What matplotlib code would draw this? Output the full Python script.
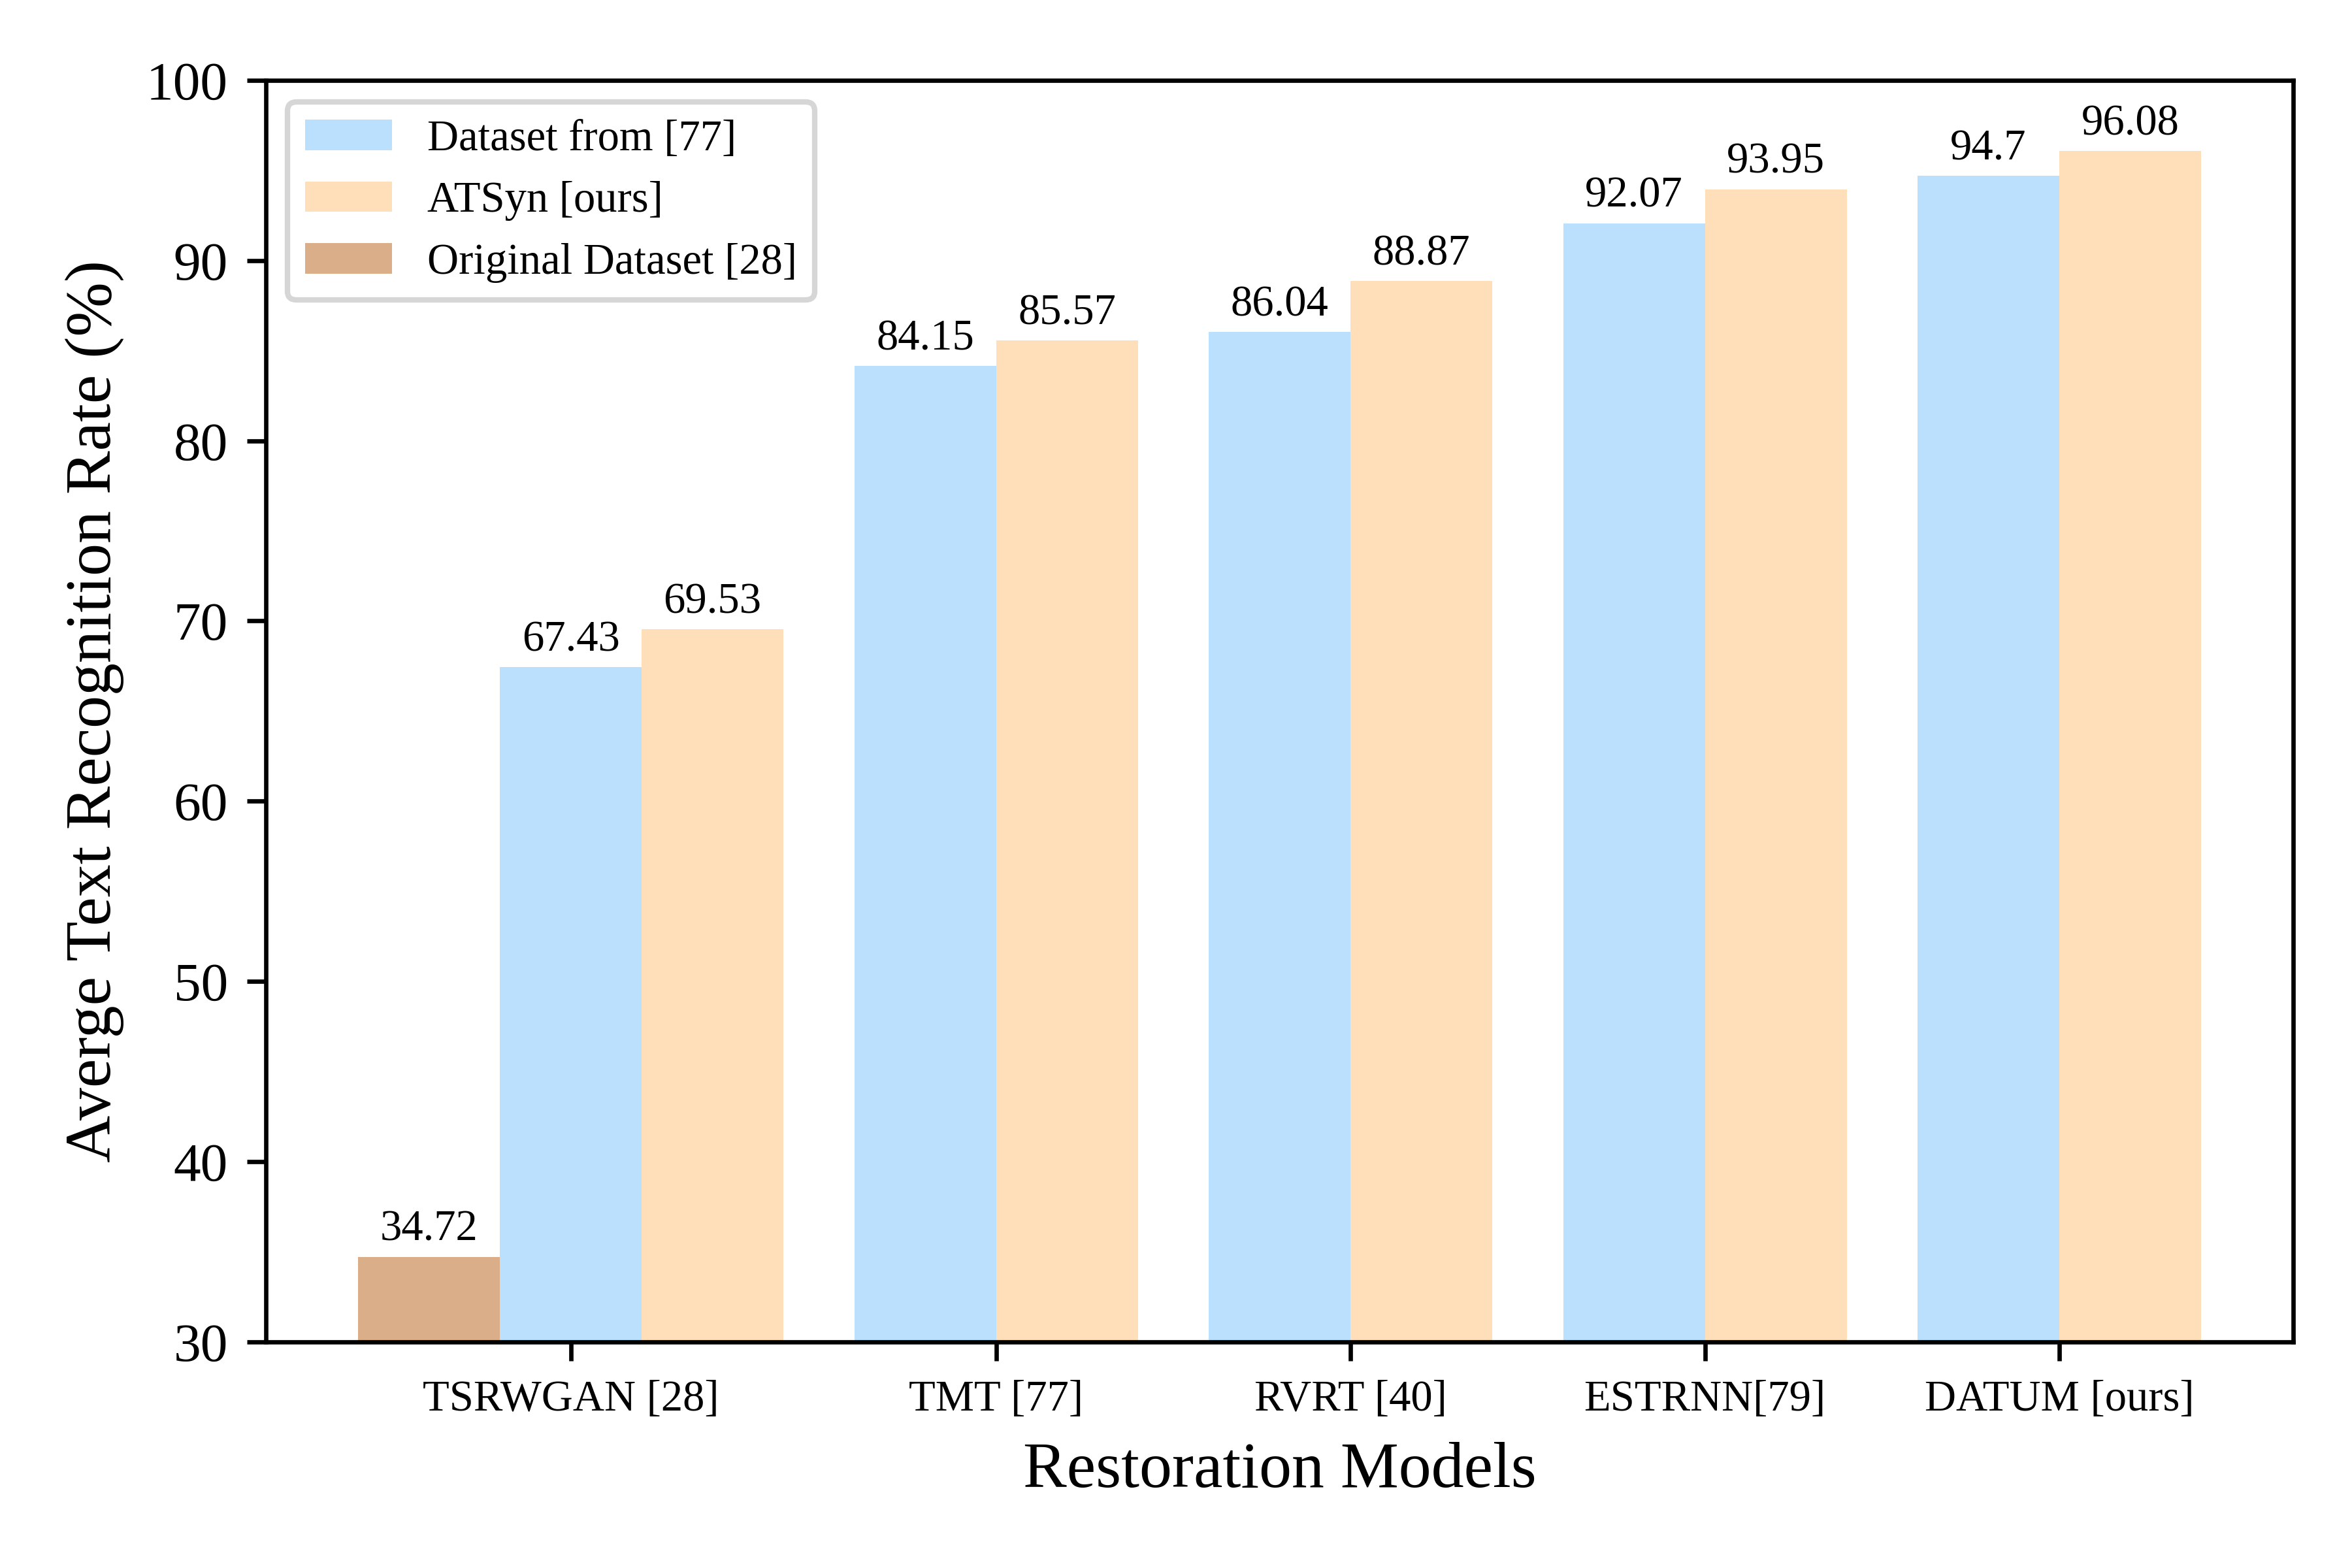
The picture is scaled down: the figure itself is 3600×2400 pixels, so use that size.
import matplotlib
matplotlib.use('Agg')
import matplotlib.pyplot as plt
import numpy as np

plt.rcParams['font.family'] = ['Liberation Serif', 'DejaVu Serif']

# data
models = ['TSRWGAN [28]', 'TMT [77]', 'RVRT [40]', 'ESTRNN[79]', 'DATUM [ours]']
dataset77 = [67.43, 84.15, 86.04, 92.07, 94.7]
atsyn = [69.53, 85.57, 88.87, 93.95, 96.08]
original28 = [34.72]
legend_names = ['Dataset from [77]', 'ATSyn [ours]', 'Original Dataset [28]']

BLUE = '#bae0fd'
ORANGE = '#fedfba'
BROWN = '#d9ae88'
W = 0.4

fig, ax = plt.subplots(figsize=(6, 4))
fig.subplots_adjust(left=0.1131, right=0.975, bottom=0.1442, top=0.9488)

index = np.arange(len(models))
b1 = ax.bar(index - W / 2, dataset77, W, color=BLUE, label=legend_names[0])
b2 = ax.bar(index + W / 2, atsyn, W, color=ORANGE, label=legend_names[1])
b3 = ax.bar(index[:1] - 3 * W / 2, original28, W, color=BROWN, label=legend_names[2])

for bars in (b1, b2, b3):
    ax.bar_label(bars, fontsize=8, padding=1.3)

# ticks: first group centred on its three bars
xt = index.astype(float)
xt[0] = -W / 2
ax.set_xticks(xt)
ax.set_xticklabels(models, fontsize=8)
ax.tick_params(axis='y', labelsize=10)

ax.set_ylim(30, 100)
ax.set_xlabel('Restoration Models', fontsize=12)
ax.set_ylabel('Averge Text Recognition Rate (%)', fontsize=12)

ax.legend(loc='upper left', fontsize=8)

plt.savefig('out.png', dpi=600)
plt.close('all')
